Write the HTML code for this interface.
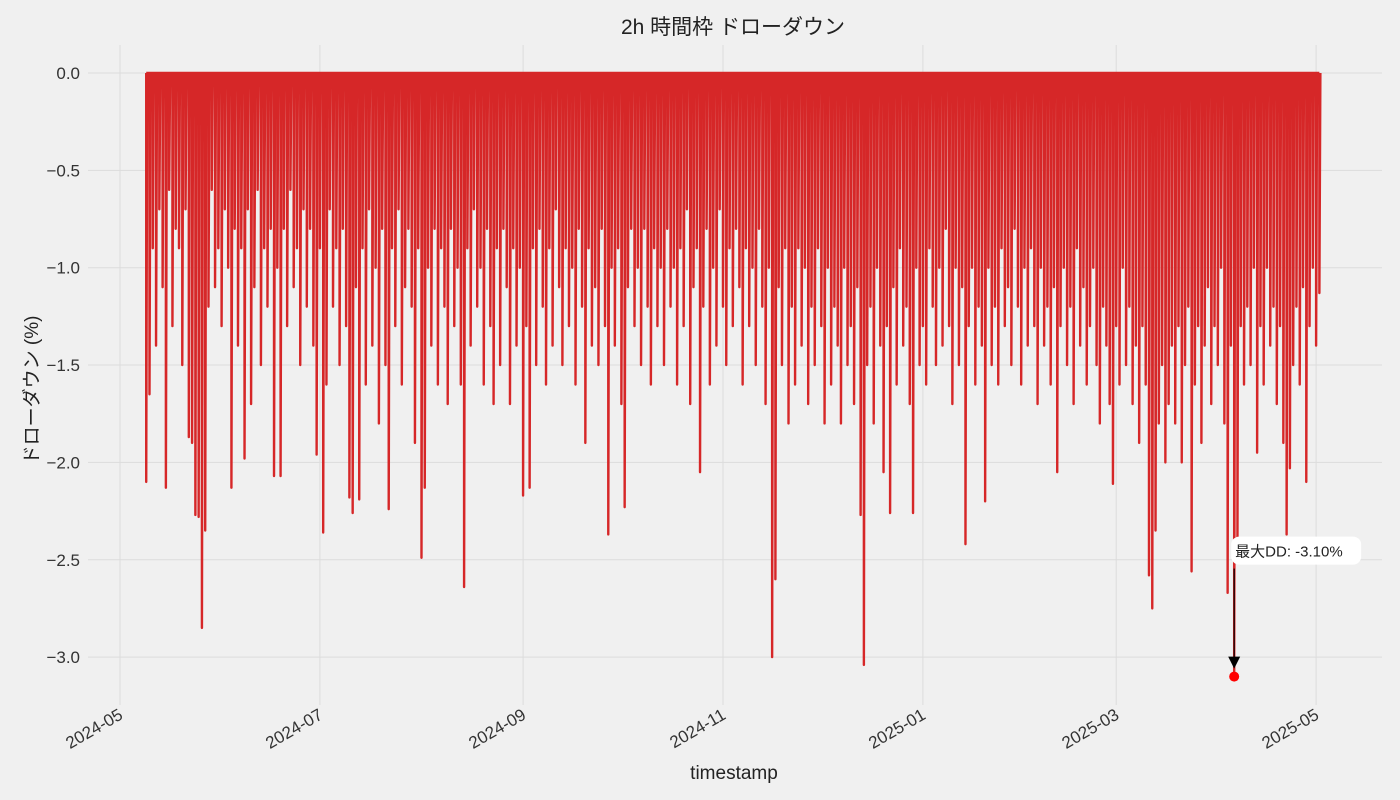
<!DOCTYPE html>
<html><head><meta charset="utf-8">
<style>
html,body{margin:0;padding:0;background:#f0f0f0;}
svg{display:block;font-family:"Liberation Sans","Noto Sans CJK JP",sans-serif;}
</style></head>
<body>
<svg id="chart" width="1400" height="800" viewBox="0 0 1400 800">
<rect width="1400" height="800" fill="#f0f0f0"/>
<g id="grid"></g>
<g id="series"></g>
<g id="axes"></g>
<text x="733" y="34" text-anchor="middle" font-size="21" fill="#222">2h 時間枠 ドローダウン</text>
<text x="734" y="779" text-anchor="middle" font-size="19" fill="#222">timestamp</text>
<text transform="translate(38,390) rotate(-90)" text-anchor="middle" font-size="19" fill="#222">ドローダウン (%)</text>
<g id="annot"></g>
</svg>
<script>
const startDate = "2024-05-09";
const drawdown = [
-2.10,-1.65,-0.9,-1.4,-0.7,-1.1,-2.13,-0.6,-1.3,-0.8,-0.9,-1.5,-0.7,-1.87,-1.9,-2.27,-2.28,-2.85,-2.35,-1.2,
-0.6,-1.1,-0.9,-1.3,-0.7,-1.0,-2.13,-0.8,-1.4,-0.9,-1.98,-0.7,-1.7,-1.1,-0.6,-1.5,-0.9,-1.2,-0.8,-2.07,
-1.0,-2.07,-0.8,-1.3,-0.6,-1.1,-0.9,-1.5,-0.7,-1.2,-0.8,-1.4,-1.96,-0.9,-2.36,-1.6,-0.7,-1.2,-0.9,-1.5,
-0.8,-1.3,-2.18,-2.26,-1.1,-2.19,-0.9,-1.6,-0.7,-1.4,-1.0,-1.8,-0.8,-1.5,-2.24,-0.9,-1.3,-0.7,-1.6,-1.1,
-0.8,-1.2,-1.9,-0.9,-2.49,-2.13,-1.0,-1.4,-0.8,-1.6,-0.9,-1.2,-1.7,-0.8,-1.3,-1.0,-1.6,-2.64,-0.9,-1.4,
-0.7,-1.2,-1.0,-1.6,-0.8,-1.3,-1.7,-0.9,-1.5,-0.8,-1.1,-1.7,-0.9,-1.4,-1.0,-2.17,-1.3,-2.13,-0.9,-1.5,
-0.8,-1.2,-1.6,-0.9,-1.4,-0.7,-1.1,-1.5,-0.9,-1.3,-1.0,-1.6,-0.8,-1.2,-1.9,-0.9,-1.4,-1.1,-1.5,-0.8,
-1.3,-2.37,-1.0,-1.4,-0.9,-1.7,-2.23,-1.1,-0.8,-1.3,-1.0,-1.5,-0.8,-1.2,-1.6,-0.9,-1.3,-1.0,-1.5,-0.8,
-1.2,-1.0,-1.6,-0.9,-1.3,-0.7,-1.7,-1.1,-0.9,-2.05,-1.2,-0.8,-1.6,-1.0,-1.4,-0.7,-1.2,-1.5,-0.9,-1.3,
-0.8,-1.1,-1.6,-0.9,-1.3,-1.0,-1.5,-0.8,-1.2,-1.7,-1.0,-3.00,-2.60,-1.1,-1.5,-0.9,-1.8,-1.2,-1.6,-0.9,
-1.4,-1.0,-1.7,-1.2,-1.5,-0.9,-1.3,-1.8,-1.0,-1.6,-1.2,-1.4,-1.8,-1.0,-1.5,-1.3,-1.7,-1.1,-2.27,-3.04,
-1.5,-1.2,-1.8,-1.0,-1.4,-2.05,-1.3,-2.26,-1.1,-1.6,-0.9,-1.4,-1.2,-1.7,-2.26,-1.0,-1.5,-1.3,-1.6,-0.9,
-1.2,-1.5,-1.0,-1.4,-0.8,-1.3,-1.7,-1.0,-1.5,-1.1,-2.42,-1.3,-1.0,-1.6,-1.2,-1.4,-2.20,-1.0,-1.5,-1.2,
-1.6,-0.9,-1.3,-1.1,-1.5,-0.8,-1.2,-1.6,-1.0,-1.4,-0.9,-1.3,-1.7,-1.0,-1.4,-1.2,-1.6,-1.1,-2.05,-1.3,
-1.0,-1.5,-1.2,-1.7,-0.9,-1.4,-1.1,-1.6,-1.3,-1.0,-1.5,-1.8,-1.2,-1.4,-1.7,-2.11,-1.3,-1.6,-1.0,-1.5,
-1.2,-1.7,-1.4,-1.9,-1.3,-1.6,-2.58,-2.75,-2.35,-1.8,-1.5,-2.0,-1.7,-1.4,-1.8,-1.3,-2.0,-1.5,-1.2,-2.56,
-1.6,-1.3,-1.9,-1.4,-1.1,-1.7,-1.3,-1.5,-1.0,-1.8,-2.67,-1.4,-3.10,-2.4,-1.3,-1.6,-1.2,-1.5,-1.0,-1.95,
-1.3,-1.6,-1.0,-1.4,-1.2,-1.7,-1.3,-1.9,-2.37,-2.03,-1.5,-1.2,-1.6,-1.1,-2.10,-1.3,-1.0,-1.4,-1.13
];
const yTicks = [0.0,-0.5,-1.0,-1.5,-2.0,-2.5,-3.0];
const yTickLabels = ["0.0","\u22120.5","\u22121.0","\u22121.5","\u22122.0","\u22122.5","\u22123.0"];
const xTicks = ["2024-05-01","2024-07-01","2024-09-01","2024-11-01","2025-01-01","2025-03-01","2025-05-01"];
const xTickLabels = ["2024-05","2024-07","2024-09","2024-11","2025-01","2025-03","2025-05"];

const NS="http://www.w3.org/2000/svg";
const DAY=86400000, base=Date.UTC(2024,4,1);
function dnum(s){const p=s.split("-");return (Date.UTC(+p[0],+p[1]-1,+p[2])-base)/DAY;}
const xs=d=>120+d*3.277;
const ys=v=>73-v*194.7;
function mk(tag,attrs,parent){const e=document.createElementNS(NS,tag);for(const k in attrs)e.setAttribute(k,attrs[k]);parent.appendChild(e);return e;}
const grid=document.getElementById('grid'),axes=document.getElementById('axes'),ser=document.getElementById('series'),ann=document.getElementById('annot');
yTicks.forEach((t,i)=>{
  const l=mk('line',{x1:88,x2:1382,y1:ys(t),y2:ys(t),stroke:'#dcdcdc','stroke-width':1},grid);
  
  
  const tx=mk('text',{x:80,y:ys(t)+6,'text-anchor':'end','font-size':17,fill:'#333'},axes);
  tx.textContent=yTickLabels[i];
  
  
});
xTicks.forEach((t,i)=>{
  const x=xs(dnum(t));
  const l=mk('line',{x1:x,x2:x,y1:45,y2:705,stroke:'#dcdcdc','stroke-width':1},grid);
  
  
  const tx=mk('text',{x:0,y:0,'text-anchor':'end','font-size':17,fill:'#333',transform:`translate(${x+4},${718}) rotate(-30)`},axes);
  tx.textContent=xTickLabels[i];
  
  
});
const d0=dnum(startDate);
let p=`M${xs(d0)},${ys(0)}`;
let minI=0;
drawdown.forEach((v,i)=>{
  const d=d0+i;
  p+=` M${xs(d)},${ys(0)} L${xs(d)},${ys(v)} L${xs(d+0.3)},${ys(0)}`;
  if(v<drawdown[minI])minI=i;
});
p+=` M${xs(d0)},${ys(0)} L${xs(d0+drawdown.length-1)},${ys(0)}`;
const path=mk('path',{d:p,fill:'none',stroke:'#d62728','stroke-width':2.4,'stroke-linejoin':'round'},ser);


const mx=xs(d0+minI), my=ys(drawdown[minI]);
const box=mk('rect',{x:mx-3,y:my-140,width:130,height:28,rx:8,fill:'#fff'},ann);


const at=mk('text',{x:mx+1,y:my-120,'font-size':15,fill:'#222'},ann);
at.textContent='最大DD: '+drawdown[minI].toFixed(2)+'%';


const al=mk('line',{x1:mx,x2:mx,y1:my-108,y2:my-18,stroke:'#000','stroke-width':1.2},ann);


const ah=mk('path',{d:`M${mx-6},${my-20} L${mx+6},${my-20} L${mx},${my-8} Z`,fill:'#000'},ann);


const dot=mk('circle',{cx:mx,cy:my,r:5,fill:'#ff0000'},ann);


</script>
</body></html>
